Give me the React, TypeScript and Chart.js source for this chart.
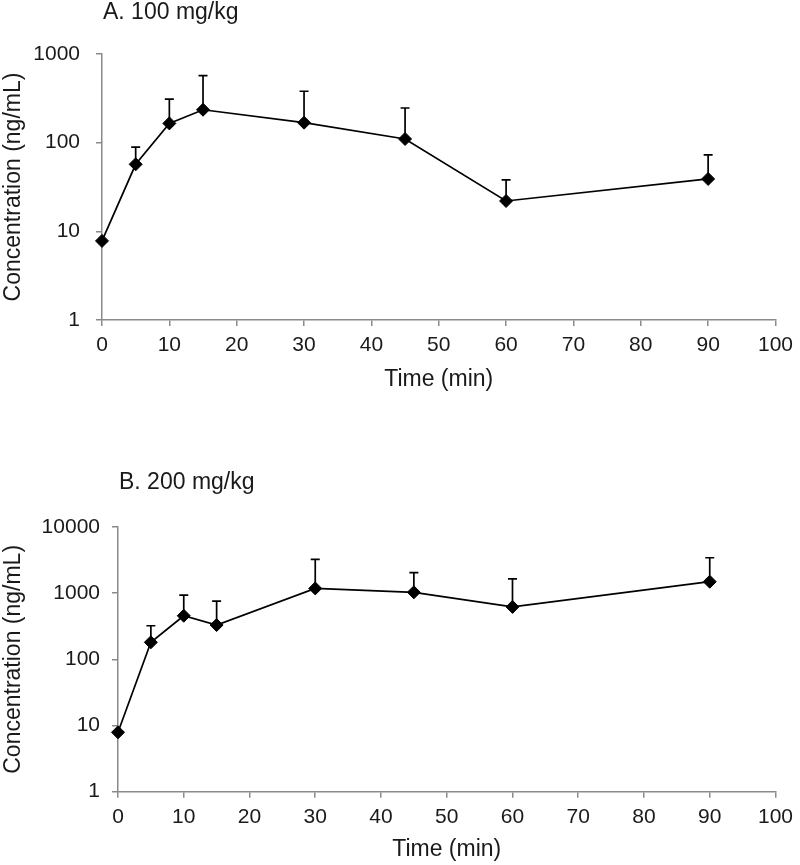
import React, { useEffect, useRef } from "react";
import { Chart, registerables } from "chart.js";

Chart.register(...registerables);

// ---- data ----
const TIMES = [0, 5, 10, 15, 30, 45, 60, 90];
const MEAN_A = [7.8, 57, 165, 235, 168, 110, 22, 39];
const UPPER_A = [null, 89, 310, 570, 380, 246, 38, 73];
const MEAN_B = [7.9, 181, 456, 330, 1180, 1030, 620, 1490];
const UPPER_B = [null, 322, 936, 760, 3240, 2040, 1650, 3430];
const X_TICKS = [0, 10, 20, 30, 40, 50, 60, 70, 80, 90, 100];
const Y_TICKS_A = [1, 10, 100, 1000];
const Y_TICKS_B = [1, 10, 100, 1000, 10000];
const TITLE_A = "A. 100 mg/kg";
const TITLE_B = "B. 200 mg/kg";
const X_LABEL = "Time (min)";
const Y_LABEL = "Concentration (ng/mL)";

const FONT = "'Liberation Sans', Arial, Helvetica, sans-serif";
const TEXT = "#1a1a1a";
const AXIS = "#8a8a8a";
const LABEL_SIZE = 23;

type Area = { left: number; right: number; top: number; bottom: number };

type PanelProps = {
  title: string;
  means: number[];
  uppers: (number | null)[];
  yTicks: number[];
  top: number;
  height: number;
  area: Area;
  xTitleCenter: number;
  yTickPad: number;
  titleBaseline: number;
  tickFont: number;
};

function Panel(p: PanelProps) {
  const ref = useRef<HTMLCanvasElement | null>(null);

  useEffect(() => {
    if (!ref.current) return;
    const W = 800;
    const titleLH = LABEL_SIZE * 1.2;
    const xBottom = p.xTitleCenter + titleLH / 2;

    const errPlugin = {
      id: "errBars",
      beforeDatasetsDraw(chart: any) {
        const ctx = chart.ctx;
        const xs = chart.scales.x;
        const ys = chart.scales.y;
        ctx.save();
        ctx.strokeStyle = "#000";
        ctx.lineWidth = 1.7;
        TIMES.forEach((t, i) => {
          const u = p.uppers[i];
          if (u == null) return;
          const x = xs.getPixelForValue(t);
          const y0 = ys.getPixelForValue(p.means[i]);
          const y1 = ys.getPixelForValue(u);
          ctx.beginPath();
          ctx.moveTo(x, y0);
          ctx.lineTo(x, y1);
          ctx.moveTo(x - 4.5, y1);
          ctx.lineTo(x + 4.5, y1);
          ctx.stroke();
        });
        ctx.restore();
      },
    };

    const titlePlugin = {
      id: "panelTitle",
      afterDraw(chart: any) {
        const ctx = chart.ctx;
        ctx.save();
        ctx.font = `${LABEL_SIZE}px ${FONT}`;
        ctx.fillStyle = TEXT;
        ctx.textAlign = "left";
        ctx.textBaseline = "alphabetic";
        ctx.fillText(p.title, chart.chartArea.left + 1, p.titleBaseline);
        ctx.restore();
      },
    };

    const chart = new Chart(ref.current, {
      type: "line",
      data: {
        datasets: [
          {
            data: TIMES.map((t, i) => ({ x: t, y: p.means[i] })),
            borderColor: "#000",
            borderWidth: 1.7,
            pointStyle: "rectRot",
            pointRadius: 6.5,
            pointBackgroundColor: "#000",
            pointBorderColor: "#000",
            pointBorderWidth: 1,
            tension: 0,
            clip: false as any,
          },
        ],
      },
      options: {
        responsive: false,
        animation: false,
        layout: {
          padding: {
            left: 0,
            right: W - p.area.right,
            top: p.area.top,
            bottom: p.height - xBottom,
          },
        },
        plugins: {
          legend: { display: false },
          tooltip: { enabled: false },
          title: { display: false },
        },
        scales: {
          x: {
            type: "linear",
            min: 0,
            max: 100,
            afterBuildTicks: (s: any) => {
              s.ticks = X_TICKS.map((v) => ({ value: v }));
            },
            afterFit: (s: any) => {
              s.height = xBottom - p.area.bottom;
            },
            ticks: {
              font: { family: FONT, size: p.tickFont },
              color: TEXT,
              padding: 7,
              maxRotation: 0,
              autoSkip: false,
            },
            grid: {
              display: true,
              drawOnChartArea: false,
              drawTicks: true,
              tickLength: 6,
              color: AXIS,
              lineWidth: 1.5,
            },
            border: { display: true, color: AXIS, width: 1.5 },
            title: {
              display: true,
              text: X_LABEL,
              font: { family: FONT, size: LABEL_SIZE },
              color: TEXT,
              padding: 0,
            },
          },
          y: {
            type: "logarithmic",
            min: p.yTicks[0],
            max: p.yTicks[p.yTicks.length - 1],
            afterBuildTicks: (s: any) => {
              s.ticks = p.yTicks.map((v) => ({ value: v }));
            },
            afterFit: (s: any) => {
              s.width = p.area.left;
            },
            ticks: {
              font: { family: FONT, size: p.tickFont },
              color: TEXT,
              padding: p.yTickPad,
              autoSkip: false,
              callback: (v: any) => String(v),
            },
            grid: {
              display: true,
              drawOnChartArea: false,
              drawTicks: true,
              tickLength: 6,
              color: AXIS,
              lineWidth: 1.5,
            },
            border: { display: true, color: AXIS, width: 1.5 },
            title: {
              display: true,
              text: Y_LABEL,
              font: { family: FONT, size: LABEL_SIZE },
              color: TEXT,
              padding: 0,
            },
          },
        },
      } as any,
      plugins: [errPlugin, titlePlugin],
    });

    return () => chart.destroy();
  }, []);

  return (
    <div
      style={{
        position: "absolute",
        left: 0,
        top: p.top,
        width: 800,
        height: p.height,
      }}
    >
      <canvas ref={ref} width={800} height={p.height} style={{ display: "block" }} />
    </div>
  );
}

export default function App() {
  return (
    <div
      style={{
        position: "absolute",
        left: 0,
        top: 0,
        width: 800,
        height: 865,
        background: "#fff",
        overflow: "hidden",
      }}
    >
      <Panel
        title={TITLE_A}
        means={MEAN_A}
        uppers={UPPER_A}
        yTicks={Y_TICKS_A}
        top={0}
        height={430}
        area={{ left: 102, right: 777, top: 54, bottom: 320 }}
        xTitleCenter={379.5}
        yTickPad={16}
        titleBaseline={18.5}
        tickFont={21}
      />
      <Panel
        title={TITLE_B}
        means={MEAN_B}
        uppers={UPPER_B}
        yTicks={Y_TICKS_B}
        top={435}
        height={430}
        area={{ left: 118, right: 780, top: 92, bottom: 356.7 }}
        xTitleCenter={414.5}
        yTickPad={12}
        titleBaseline={54}
        tickFont={21}
      />
    </div>
  );
}
